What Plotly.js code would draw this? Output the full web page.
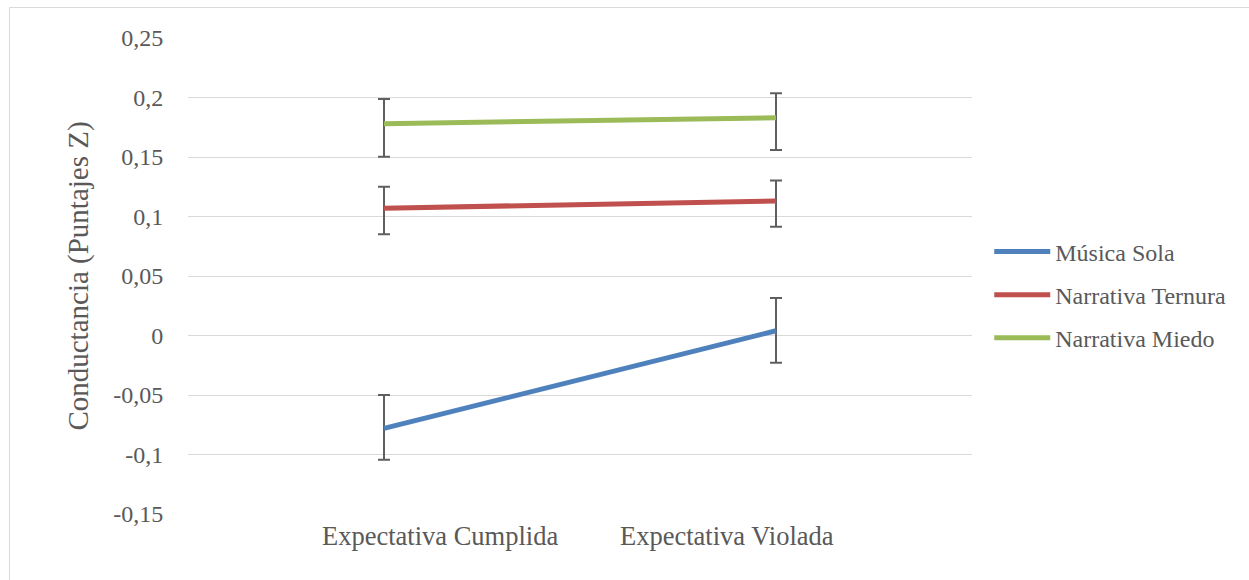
<!DOCTYPE html>
<html>
<head>
<meta charset="utf-8">
<script src="https://cdn.plot.ly/plotly-3.0.1.min.js"></script>
<style>
  html, body { margin: 0; padding: 0; background: #ffffff; }
  #chart { width: 1249px; height: 580px; }
</style>
</head>
<body>
<div id="chart"></div>
<script>
// Conditions on the x axis
const categories = ['Expectativa Cumplida', 'Expectativa Violada'];

// Mean skin conductance (z scores) per group
const seriesNames = ['Música Sola', 'Narrativa Ternura', 'Narrativa Miedo'];
const musicaSola = [-0.078, 0.004];
const narrativaTernura = [0.107, 0.113];
const narrativaMiedo = [0.178, 0.183];

// Error bar extents (upper / lower) per group
const musicaSolaErrPlus = [0.028, 0.0275];
const musicaSolaErrMinus = [0.0265, 0.027];
const ternuraErrPlus = [0.018, 0.0172];
const ternuraErrMinus = [0.022, 0.0217];
const miedoErrPlus = [0.0208, 0.0205];
const miedoErrMinus = [0.0278, 0.0272];

// Y axis ticks, written with a decimal comma
const yTickVals = [-0.15, -0.1, -0.05, 0, 0.05, 0.1, 0.15, 0.2, 0.25];
const yTickText = ['-0,15', '-0,1', '-0,05', '0', '0,05', '0,1', '0,15', '0,2', '0,25'];

const colors = ['#4F81BD', '#C0504D', '#9BBB59'];
const textColor = '#595959';
const serif = 'Liberation Serif';

function makeTrace(name, values, plus, minus, color, group) {
  return {
    type: 'scatter',
    mode: 'lines',
    name: name,
    legendgroup: group,
    x: categories,
    y: values,
    line: { color: color, width: 5 },
    error_y: {
      type: 'data',
      symmetric: false,
      array: plus,
      arrayminus: minus,
      color: '#5f5f5f',
      thickness: 2,
      width: 6
    }
  };
}

const data = [
  makeTrace(seriesNames[0], musicaSola, musicaSolaErrPlus, musicaSolaErrMinus, colors[0], 'g1'),
  makeTrace(seriesNames[1], narrativaTernura, ternuraErrPlus, ternuraErrMinus, colors[1], 'g2'),
  makeTrace(seriesNames[2], narrativaMiedo, miedoErrPlus, miedoErrMinus, colors[2], 'g3')
];

// Category labels sit under the axis, drawn as annotations so they can be
// spaced like the original worksheet chart
const labelPositions = [0.322, 0.688];
const annotations = categories.map((c, i) => ({
  text: c,
  xref: 'paper',
  yref: 'paper',
  x: labelPositions[i],
  y: 0,
  xanchor: 'center',
  yanchor: 'top',
  yshift: -5,
  showarrow: false,
  font: { family: serif, color: textColor, size: 26.5 }
}));

const layout = {
  width: 1249,
  height: 580,
  margin: { l: 188, r: 277, t: 38, b: 66, pad: 0 },
  paper_bgcolor: '#ffffff',
  plot_bgcolor: '#ffffff',
  font: { family: serif, color: textColor, size: 24 },
  showlegend: true,
  legend: {
    x: 1.022,
    y: 0.598,
    xanchor: 'left',
    yanchor: 'top',
    traceorder: 'grouped',
    tracegroupgap: 9,
    itemwidth: 56,
    font: { family: serif, color: textColor, size: 24 },
    bgcolor: 'rgba(0,0,0,0)'
  },
  xaxis: {
    type: 'category',
    range: [-0.5, 1.5],
    showgrid: false,
    zeroline: false,
    showline: false,
    showticklabels: false,
    ticks: ''
  },
  yaxis: {
    range: [-0.15, 0.25],
    tickvals: yTickVals,
    ticktext: yTickText,
    showgrid: true,
    gridcolor: '#d9d9d9',
    gridwidth: 1,
    zeroline: false,
    showline: false,
    ticks: 'outside',
    ticklen: 19,
    tickcolor: 'rgba(0,0,0,0)',
    tickfont: { family: serif, color: textColor, size: 24 },
    title: {
      text: 'Conductancia (Puntajes Z)',
      font: { family: serif, color: textColor, size: 29 },
      standoff: 16
    }
  },
  annotations: annotations,
  shapes: [{
    type: 'rect',
    xref: 'paper',
    yref: 'paper',
    x0: -0.2277,
    x1: 1.45,
    y0: -0.2,
    y1: 1.064,
    line: { color: '#d9d9d9', width: 1 },
    fillcolor: 'rgba(0,0,0,0)',
    layer: 'below'
  }]
};

Plotly.newPlot('chart', data, layout, { displayModeBar: false, staticPlot: true });
</script>
</body>
</html>
